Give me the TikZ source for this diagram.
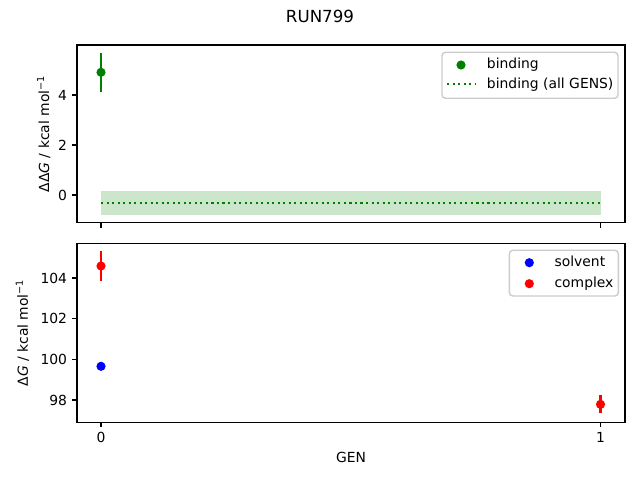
\documentclass[tikz,border=0pt]{standalone}
\usepackage{fontspec}
\setmainfont{DejaVu Sans}
\definecolor{mplgreen}{RGB}{0,128,0}
\definecolor{mplblue}{RGB}{0,0,255}
\definecolor{mplred}{RGB}{255,0,0}
\definecolor{legedge}{gray}{0.8}
\tikzset{
  axisframe/.style={draw=black, line width=0.8pt},
  tickmark/.style={draw=black, line width=0.8pt},
  ticklabel/.style={font=\fontsize{10}{12}\selectfont, inner sep=0pt, text=black},
  labeltext/.style={font=\fontsize{10}{12}\selectfont, inner sep=0pt, text=black},
  errbar/.style={line width=1.5pt},
  dot/.style={circle, inner sep=0pt, minimum size=6.6pt, draw=none},
  legbox/.style={draw=legedge, fill=white, fill opacity=0.8, rounded corners=2.5pt, line width=1pt},
  dottedline/.style={mplgreen, line width=1.5pt, dash pattern=on 1.5pt off 2.475pt},
}
\begin{document}
\begin{tikzpicture}[x=0.72pt,y=-0.72pt]
\useasboundingbox (0,0) rectangle (640,480);
% title
\node[font=\fontsize{12}{14}\selectfont, inner sep=0pt] (title) at (320,16.3) {RUN799};

% ---------- top axes ----------
\fill[mplgreen, opacity=0.2] (101,191.3) rectangle (600.5,215.3);
\coordinate (dl) at (101,202.7);
\coordinate (dr) at (600.5,202.7);
\draw[dottedline] (dl) -- (dr);
\coordinate (g0t) at (101,53.3);
\coordinate (g0b) at (101,91.7);
\draw[errbar, mplgreen] (g0t) -- (g0b);
\node[dot, fill=mplgreen] (g0) at (101,72.3) {};
\draw[axisframe] (77,45) rectangle (625,222.7);
% y ticks top
\foreach \v/\y in {0/195,2/145,4/95}{
  \draw[tickmark] (77,\y) -- (72.14,\y);
  \node[ticklabel, anchor=east] (ty\v) at (67.3,\y) {\v};
}
% x ticks top
\draw[tickmark] (101,222.7) -- (101,227.6);
\draw[tickmark] (600.5,222.7) -- (600.5,227.6);
\node[labeltext, rotate=90, anchor=south] (ylabtop) at (50.7,133.9) {ΔΔ\textit{G} / kcal mol\textsuperscript{−1}};
% legend top
\draw[legbox] (442,52.3) rectangle (618,98.3);
\node[dot, fill=mplgreen] (lg1) at (461,65) {};
\node[labeltext, anchor=base west] (lt1) at (486.7,68.8) {binding};
\coordinate (ld1) at (447,84.3);
\coordinate (ld2) at (475,84.3);
\draw[dottedline] (ld1) -- (ld2);
\node[labeltext, anchor=base west] (lt2) at (486.7,88.1) {binding (all GENS)};

% ---------- bottom axes ----------
\coordinate (r0t) at (101,250.7);
\coordinate (r0b) at (101,280.7);
\draw[errbar, mplred] (r0t) -- (r0b);
\node[dot, fill=mplred] (r0) at (101,266) {};
\coordinate (b0t) at (101,364.3);
\coordinate (b0b) at (101,368.3);
\draw[errbar, mplblue] (b0t) -- (b0b);
\node[dot, fill=mplblue] (b0) at (101,366.3) {};
\coordinate (r1t) at (600.5,395);
\coordinate (r1b) at (600.5,413.3);
\draw[errbar, mplred] (r1t) -- (r1b);
\node[dot, fill=mplred] (r1) at (600.5,404.3) {};
\draw[axisframe] (77,243.3) rectangle (625,422.3);
\foreach \v/\y in {98/400,100/359.3,102/318.7,104/278}{
  \draw[tickmark] (77,\y) -- (72.14,\y);
  \node[ticklabel, anchor=east] (by\v) at (67.3,\y) {\v};
}
\draw[tickmark] (101,422.3) -- (101,427.2);
\draw[tickmark] (600.5,422.3) -- (600.5,427.2);
\node[ticklabel, anchor=north] (bx0) at (101,432) {0};
\node[ticklabel, anchor=north] (bx1) at (600.5,432) {1};
\node[labeltext] (xlab) at (351,457) {GEN};
\node[labeltext, rotate=90, anchor=south] (ylabbot) at (29.5,332.8) {Δ\textit{G} / kcal mol\textsuperscript{−1}};
% legend bottom
\draw[legbox] (509.3,250.3) rectangle (618.3,296);
\node[dot, fill=mplblue] (lb1) at (529.3,262.7) {};
\node[labeltext, anchor=base west] (lbt1) at (554.3,266.7) {solvent};
\node[dot, fill=mplred] (lb2) at (529.3,283.7) {};
\node[labeltext, anchor=base west] (lbt2) at (554.3,287.7) {complex};
\end{tikzpicture}
\end{document}
